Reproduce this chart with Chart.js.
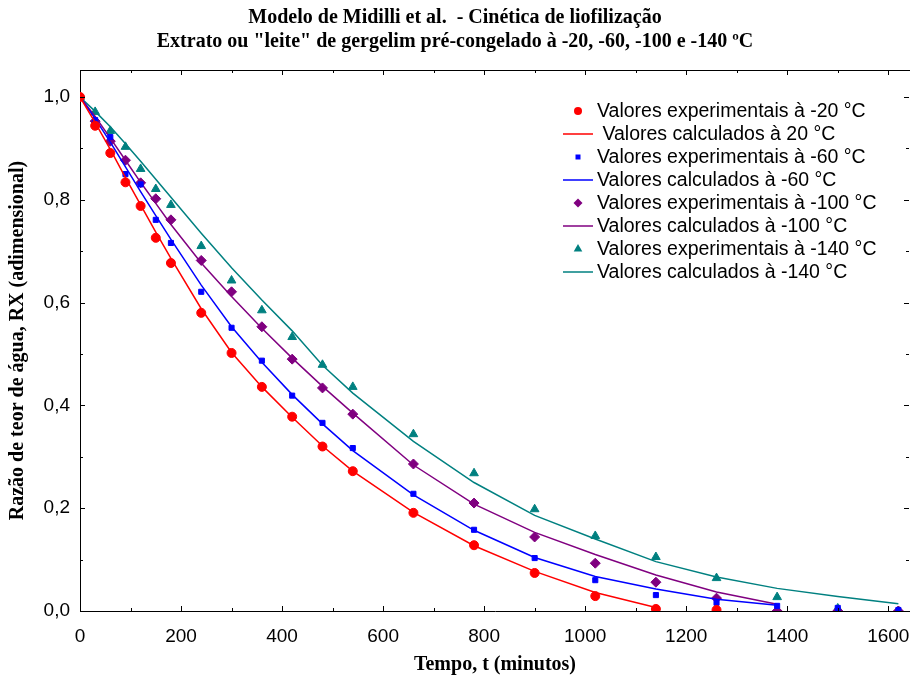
<!DOCTYPE html>
<html>
<head>
<meta charset="utf-8">
<script src="https://cdn.jsdelivr.net/npm/chart.js@4.4.0/dist/chart.umd.min.js"></script>
<style>
  html, body { margin: 0; padding: 0; background: #fff; }
  #wrap { width: 910px; height: 677px; }
</style>
</head>
<body>
<div id="wrap"><canvas id="grafico" width="910" height="677"></canvas></div>
<script>
// tempos de amostragem (minutos)
var tempo = [0, 30, 60, 90, 120, 150, 180, 240, 300, 360, 420, 480, 540, 660, 780, 900, 1020, 1140, 1260, 1380, 1500, 1620];

// razão de teor de água - experimental e calculado (Midilli)
var expM20 = [1.0, 0.944, 0.891, 0.834, 0.788, 0.726, 0.677, 0.580, 0.502, 0.436, 0.378, 0.320, 0.272, 0.191, 0.128, 0.074, 0.029, 0.004, 0.002];
var calcM20 = [1.0, 0.950, 0.898, 0.843, 0.790, 0.737, 0.686, 0.588, 0.503, 0.436, 0.377, 0.321, 0.272, 0.192, 0.127, 0.077, 0.036, 0.007];

var expM60 = [1.0, 0.955, 0.922, 0.850, 0.830, 0.761, 0.716, 0.621, 0.551, 0.487, 0.419, 0.366, 0.317, 0.228, 0.158, 0.103, 0.060, 0.031, 0.016, 0.010, 0.006, 0.002];
var calcM60 = [1.0, 0.958, 0.912, 0.864, 0.816, 0.769, 0.723, 0.634, 0.553, 0.484, 0.421, 0.364, 0.312, 0.226, 0.157, 0.104, 0.067, 0.043, 0.023, 0.011];

var expM100 = [1.0, 0.953, 0.914, 0.877, 0.833, 0.802, 0.761, 0.682, 0.621, 0.553, 0.490, 0.434, 0.383, 0.286, 0.210, 0.144, 0.093, 0.056, 0.025, 0.0, 0.0, 0.0];
var calcM100 = [1.0, 0.962, 0.920, 0.877, 0.834, 0.793, 0.752, 0.677, 0.612, 0.550, 0.492, 0.437, 0.385, 0.284, 0.208, 0.153, 0.110, 0.070, 0.037, 0.013];

var expM140 = [1.0, 0.971, 0.934, 0.903, 0.860, 0.821, 0.790, 0.710, 0.643, 0.585, 0.533, 0.479, 0.436, 0.344, 0.268, 0.198, 0.146, 0.105, 0.064, 0.027, 0.005, 0.0];
var calcM140 = [1.0, 0.972, 0.942, 0.909, 0.875, 0.840, 0.805, 0.735, 0.668, 0.605, 0.545, 0.478, 0.424, 0.330, 0.250, 0.186, 0.140, 0.096, 0.066, 0.044, 0.028, 0.014];

// rótulos da legenda, na ordem dos datasets
var rotulos = [
    'Valores experimentais à -20 °C',
    ' Valores calculados à 20 °C',
    'Valores experimentais à -60 °C',
    'Valores calculados à -60 °C',
    'Valores experimentais à -100 °C',
    'Valores calculados à -100 °C',
    'Valores experimentais à -140 °C',
    'Valores calculados à -140 °C'
];

var titulo = [
    'Modelo de Midilli et al.  - Cinética de liofilização',
    'Extrato ou "leite" de gergelim pré-congelado à -20, -60, -100 e -140 ºC'
];

var fonteSerif = '"Liberation Serif", "Times New Roman", serif';
var fonteSans = '"Liberation Sans", Arial, sans-serif';

// par (tempo, valor) para cada ponto da série
function pontos(valores) {
    return valores.map(function(v, i) {
        return { x: tempo[i], y: v };
    });
}

function serieExp(label, valores, cor, estilo, raio) {
    return {
        label: label,
        data: pontos(valores),
        showLine: false,
        pointStyle: estilo,
        pointRadius: raio,
        pointBackgroundColor: cor,
        pointBorderColor: cor,
        pointBorderWidth: 1,
        backgroundColor: cor,
        borderColor: cor
    };
}

function serieCalc(label, valores, cor) {
    return {
        label: label,
        data: pontos(valores),
        showLine: true,
        fill: false,
        tension: 0,
        pointRadius: 0,
        borderColor: cor,
        backgroundColor: cor,
        borderWidth: 1.5
    };
}

// desenha um símbolo pequeno da legenda
function simbolo(ctx, estilo, x, y, cor) {
    ctx.fillStyle = cor;
    ctx.beginPath();
    if (estilo === 'circle') {
        ctx.arc(x, y, 4, 0, Math.PI * 2);
    } else if (estilo === 'rect') {
        ctx.rect(x - 2.5, y - 2.5, 5, 5);
    } else if (estilo === 'rectRot') {
        ctx.moveTo(x - 4.5, y);
        ctx.lineTo(x, y - 4.5);
        ctx.lineTo(x + 4.5, y);
        ctx.lineTo(x, y + 4.5);
        ctx.closePath();
    } else if (estilo === 'triangle') {
        ctx.moveTo(x, y - 5);
        ctx.lineTo(x + 4.3, y + 2.6);
        ctx.lineTo(x - 4.3, y + 2.6);
        ctx.closePath();
    }
    ctx.fill();
}

// legenda dentro da área do gráfico, canto superior direito
var legendaInterna = {
    id: 'legendaInterna',
    afterDraw: function(chart) {
        var ctx = chart.ctx;
        ctx.save();
        ctx.font = '19.5px ' + fonteSans;
        ctx.textBaseline = 'middle';
        ctx.textAlign = 'left';
        chart.data.datasets.forEach(function(ds, i) {
            var y = 111 + i * 23;
            if (ds.showLine) {
                ctx.strokeStyle = ds.borderColor;
                ctx.lineWidth = 1.5;
                ctx.beginPath();
                ctx.moveTo(563, y);
                ctx.lineTo(593, y);
                ctx.stroke();
            } else {
                simbolo(ctx, ds.pointStyle, 578, y, ds.backgroundColor);
            }
            ctx.fillStyle = '#000';
            ctx.fillText(ds.label, 597, y + 1);
        });
        ctx.restore();
    }
};

// moldura superior e marcas internas nos quatro lados
var marcasEixos = {
    id: 'marcasEixos',
    afterDraw: function(chart) {
        var ctx = chart.ctx;
        var area = chart.chartArea;
        var ex = chart.scales.x;
        var ey = chart.scales.y;
        ctx.save();
        ctx.strokeStyle = '#000';
        ctx.lineWidth = 1;
        ctx.beginPath();
        ctx.moveTo(area.left, area.top + 0.5);
        ctx.lineTo(area.right, area.top + 0.5);
        for (var t = 0; t <= 1600; t += 100) {
            var px = Math.round(ex.getPixelForValue(t)) + 0.5;
            var len = (t % 200 === 0) ? 5 : 3;
            ctx.moveTo(px, area.bottom);
            ctx.lineTo(px, area.bottom - len);
            ctx.moveTo(px, area.top);
            ctx.lineTo(px, area.top + len);
        }
        for (var k = 0; k <= 10; k++) {
            var py = Math.round(ey.getPixelForValue(k / 10)) + 0.5;
            var leny = (k % 2 === 0) ? 5 : 3;
            ctx.moveTo(area.left, py);
            ctx.lineTo(area.left + leny, py);
            ctx.moveTo(area.right - 1, py);
            ctx.lineTo(area.right - 1 - leny, py);
        }
        ctx.stroke();
        ctx.restore();
    }
};

var ctx = document.getElementById('grafico').getContext('2d');
var grafico = new Chart(ctx, {
    type: 'scatter',
    data: {
        datasets: [
            serieExp(rotulos[0], expM20, '#ff0000', 'circle', 4.5),
            serieCalc(rotulos[1], calcM20, '#ff0000'),
            serieExp(rotulos[2], expM60, '#0000ff', 'rect', 3.6),
            serieCalc(rotulos[3], calcM60, '#0000ff'),
            serieExp(rotulos[4], expM100, '#800080', 'rectRot', 5),
            serieCalc(rotulos[5], calcM100, '#800080'),
            serieExp(rotulos[6], expM140, '#008080', 'triangle', 5),
            serieCalc(rotulos[7], calcM140, '#008080')
        ]
    },
    options: {
        responsive: false,
        animation: false,
        devicePixelRatio: 1,
        layout: { autoPadding: false, padding: { left: 0, right: 0, top: 0, bottom: 0 } },
        plugins: {
            legend: { display: false },
            tooltip: { enabled: false },
            title: {
                display: true,
                text: titulo,
                color: '#000',
                font: { family: fonteSerif, size: 20, weight: 'bold', lineHeight: 1.2 },
                padding: { top: 6, bottom: 16 }
            }
        },
        scales: {
            x: {
                type: 'linear',
                min: 0,
                max: 1643,
                grid: { display: false, drawTicks: false },
                border: { display: true, color: '#000', width: 1 },
                ticks: {
                    stepSize: 200,
                    includeBounds: false,
                    maxRotation: 0,
                    padding: 14,
                    color: '#000',
                    font: { family: fonteSans, size: 19 },
                    callback: function(v) { return String(v); }
                },
                title: {
                    display: true,
                    text: 'Tempo, t (minutos)',
                    color: '#000',
                    font: { family: fonteSerif, size: 20, weight: 'bold' },
                    padding: { top: 0, bottom: 0 }
                },
                afterFit: function(scale) {
                    scale.height = 66;
                    scale.paddingLeft = 0;
                    scale.paddingRight = 0;
                }
            },
            y: {
                type: 'linear',
                min: 0,
                max: 1.0525,
                grid: { display: false, drawTicks: false },
                border: { display: true, color: '#000', width: 1 },
                ticks: {
                    stepSize: 0.2,
                    includeBounds: false,
                    padding: 10,
                    color: '#000',
                    font: { family: fonteSans, size: 19 },
                    callback: function(v) { return v.toFixed(1).replace('.', ','); }
                },
                title: {
                    display: true,
                    text: 'Razão de teor de água, RX (adimensional)',
                    color: '#000',
                    font: { family: fonteSerif, size: 20, weight: 'bold' },
                    padding: { top: 6, bottom: 0 }
                },
                afterFit: function(scale) { scale.width = 80; }
            }
        }
    },
    plugins: [legendaInterna, marcasEixos]
});
</script>
</body>
</html>
